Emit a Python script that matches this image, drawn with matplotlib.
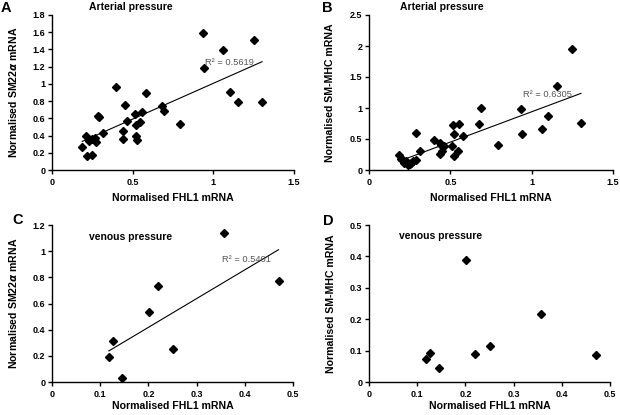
import numpy as np
import matplotlib
matplotlib.use("Agg")
import matplotlib.pyplot as plt
from matplotlib.ticker import StrMethodFormatter

plt.rcParams['font.family'] = ['Liberation Sans', 'DejaVu Sans']
plt.rcParams['font.weight'] = 'bold'

# arterial pressure, panel A (SM22alpha vs FHL1)
a_fhl1 = [0.188, 0.209, 0.215, 0.25, 0.231, 0.25, 0.264, 0.27, 0.287, 0.291, 0.318,
          0.399, 0.452, 0.442, 0.44, 0.465, 0.512, 0.52, 0.545, 0.556, 0.58, 0.523,
          0.527, 0.682, 0.694, 0.795, 0.936, 0.942, 1.06, 1.103, 1.155, 1.25, 1.302]
a_sm22 = [0.267, 0.39, 0.158, 0.17, 0.34, 0.363, 0.37, 0.324, 0.63, 0.614, 0.425,
          0.962, 0.757, 0.452, 0.36, 0.572, 0.649, 0.525, 0.552, 0.672, 0.896, 0.39,
          0.35, 0.738, 0.687, 0.537, 1.587, 1.186, 1.394, 0.9, 0.792, 1.506, 0.788]

# arterial pressure, panel B (SM-MHC vs FHL1)
b_fhl1 = [0.185, 0.199, 0.207, 0.215, 0.228, 0.24, 0.249, 0.261, 0.273, 0.286, 0.286,
          0.314, 0.397, 0.434, 0.442, 0.458, 0.438, 0.446, 0.512, 0.52, 0.518, 0.524,
          0.553, 0.547, 0.577, 0.678, 0.69, 0.793, 0.933, 0.943, 1.062, 1.099, 1.155,
          1.247, 1.303]
b_smmhc = [0.247, 0.182, 0.156, 0.113, 0.14, 0.086, 0.097, 0.113, 0.14, 0.156, 0.595,
           0.311, 0.477, 0.44, 0.408, 0.392, 0.258, 0.3, 0.38, 0.23, 0.724, 0.585,
           0.746, 0.3, 0.542, 0.746, 1.003, 0.408, 0.982, 0.579, 0.665, 0.869, 1.347,
           1.947, 0.756]

# venous pressure, same samples in C and D
v_fhl1 = [0.118, 0.127, 0.146, 0.201, 0.22, 0.25, 0.357, 0.47]
c_sm22 = [0.191, 0.317, 0.033, 0.536, 0.735, 0.255, 1.139, 0.771]
d_smmhc = [0.072, 0.093, 0.043, 0.389, 0.089, 0.114, 0.216, 0.087]

r2_labels = ["R\u00b2 = 0.5619", "R\u00b2 = 0.6305", "R\u00b2 = 0.5401"]

W, H = 620, 415
fig = plt.figure(figsize=(W / 100, H / 100), dpi=100)


def add_panel(l, t, r, b):
    # pixel box -> figure fraction
    return fig.add_axes([l / W, 1 - b / H, (r - l) / W, (b - t) / H])


def style(ax, xmax, xstep, ymax, ystep, ylabel, xlab_y):
    ax.set_xlim(0, xmax)
    ax.set_ylim(0, ymax)
    ax.set_xticks(np.arange(0, xmax + xstep / 2, xstep))
    ax.set_yticks(np.arange(0, ymax + ystep / 2, ystep))
    ax.xaxis.set_major_formatter(StrMethodFormatter('{x:g}'))
    ax.yaxis.set_major_formatter(StrMethodFormatter('{x:g}'))
    for s in ['top', 'right']:
        ax.spines[s].set_visible(False)
    for s in ['left', 'bottom']:
        ax.spines[s].set_linewidth(1.0)
    ax.tick_params(direction='out', length=2.8, width=1.0, labelsize=6.5, pad=2)
    ax.tick_params(axis='x', pad=3)
    ax.set_xlabel('Normalised FHL1 mRNA', fontsize=7.6, fontweight='bold')
    ax.set_ylabel(ylabel, fontsize=7.6, fontweight='bold')
    ax.xaxis.set_label_coords(0.5, xlab_y)
    ax.yaxis.set_label_coords(-0.138, 0.5)


def trend(ax, x, y, txt, tx, ty):
    k, c = np.polyfit(x, y, 1)
    xs = np.array([min(x), max(x)])
    ax.plot(xs, k * xs + c, color='black', lw=0.8)
    ax.text(tx, ty, txt, fontsize=6.7, fontweight='normal', color='#555555',
            va='center')


# A
axA = add_panel(52, 15, 294, 170)
axA.plot(a_fhl1, a_sm22, 'D', color='black', ms=4.4)
trend(axA, a_fhl1, a_sm22, r2_labels[0], 0.948, 1.25)
style(axA, 1.5, 0.5, 1.8, 0.2, 'Normalised SM22$\\alpha$ mRNA', -0.15)
axA.text(0.153, 1.05, 'Arterial pressure', transform=axA.transAxes,
         fontsize=7.5, fontweight='bold', va='center')

# B
axB = add_panel(369, 15, 613, 170)
axB.plot(b_fhl1, b_smmhc, 'D', color='black', ms=4.4)
trend(axB, b_fhl1, b_smmhc, r2_labels[1], 0.947, 1.22)
style(axB, 1.5, 0.5, 2.5, 0.5, 'Normalised SM-MHC mRNA', -0.15)
axB.text(0.126, 1.05, 'Arterial pressure', transform=axB.transAxes,
         fontsize=7.5, fontweight='bold', va='center')

# C
axC = add_panel(52, 225, 293, 382)
axC.plot(v_fhl1, c_sm22, 'D', color='black', ms=3.6)
trend(axC, v_fhl1, c_sm22, r2_labels[2], 0.352, 0.94)
style(axC, 0.5, 0.1, 1.2, 0.2, 'Normalised SM22$\\alpha$ mRNA', -0.123)
axC.text(0.152, 0.925, 'venous pressure', transform=axC.transAxes,
         fontsize=7.5, fontweight='bold', va='center')

# D
axD = add_panel(369, 225, 610, 382)
axD.plot(v_fhl1, d_smmhc, 'D', color='black', ms=3.6)
style(axD, 0.5, 0.1, 0.5, 0.1, 'Normalised SM-MHC mRNA', -0.123)
axD.text(0.123, 0.93, 'venous pressure', transform=axD.transAxes,
         fontsize=7.5, fontweight='bold', va='center')

# panel letters
for letter, px, py in [('A', 1, 8), ('B', 322, 8), ('C', 12, 220), ('D', 323, 221)]:
    fig.text(px / W, 1 - py / H, letter, fontsize=10.5, fontweight='bold', va='center')

fig.savefig('out.png', dpi=100)
